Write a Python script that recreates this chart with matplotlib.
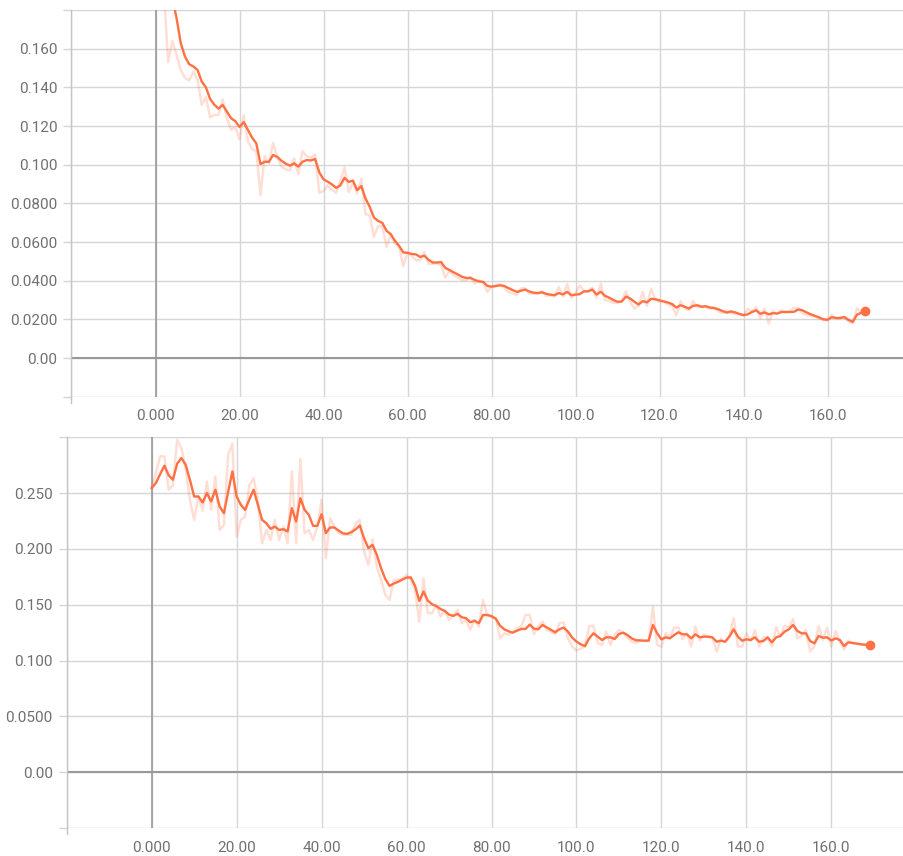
import numpy as np
import matplotlib
matplotlib.use("Agg")
import matplotlib.pyplot as plt

plt.rcParams['font.family'] = ['Roboto', 'DejaVu Sans']

# ---- data ----
steps = list(range(170))

top_smoothed = [
    0.262, 0.238, 0.216, 0.199, 0.186, 0.176, 0.163, 0.156, 0.152, 0.1508,
    0.149, 0.143, 0.140, 0.134, 0.131, 0.129, 0.1309, 0.1274, 0.124, 0.1225,
    0.1195, 0.122, 0.118, 0.114, 0.111, 0.1003, 0.1015, 0.1015, 0.105, 0.104,
    0.102, 0.1005, 0.0995, 0.1007, 0.099, 0.1015, 0.1024, 0.1022, 0.1029, 0.096,
    0.0924, 0.0912, 0.0898, 0.088, 0.0893, 0.0932, 0.0911, 0.0918, 0.0868, 0.0889,
    0.0825, 0.0782, 0.0727, 0.0709, 0.0699, 0.0658, 0.0641, 0.0606, 0.058, 0.0546,
    0.0544, 0.0538, 0.0536, 0.0523, 0.0529, 0.0508, 0.0494, 0.0494, 0.0496, 0.0466,
    0.0455, 0.0443, 0.0432, 0.042, 0.0414, 0.0414, 0.0404, 0.0396, 0.0394, 0.0373,
    0.0369, 0.0372, 0.0376, 0.0373, 0.0362, 0.0352, 0.0342, 0.0348, 0.0354, 0.0344,
    0.0338, 0.0336, 0.034, 0.0332, 0.0328, 0.0325, 0.0336, 0.0329, 0.0342, 0.0325,
    0.0328, 0.033, 0.0345, 0.0345, 0.0354, 0.0328, 0.0343, 0.0322, 0.0312, 0.0300,
    0.0291, 0.0292, 0.0318, 0.0308, 0.0291, 0.0277, 0.0294, 0.0288, 0.0306, 0.0304,
    0.0298, 0.0293, 0.0287, 0.0279, 0.0261, 0.0273, 0.0265, 0.0256, 0.0270, 0.0273,
    0.0265, 0.0268, 0.0261, 0.0259, 0.0252, 0.0243, 0.0235, 0.0241, 0.0236, 0.0228,
    0.0222, 0.0226, 0.0238, 0.0247, 0.0229, 0.0236, 0.0226, 0.0232, 0.0230, 0.0238,
    0.0238, 0.0238, 0.0239, 0.0251, 0.0247, 0.0236, 0.0226, 0.0218, 0.0210, 0.0200,
    0.0198, 0.0211, 0.0207, 0.0207, 0.0212, 0.0197, 0.0187, 0.0224, 0.0234, 0.0243,
]

top_raw = [
    0.262, 0.22, 0.19, 0.153, 0.164, 0.157, 0.149, 0.145, 0.1435, 0.148,
    0.144, 0.131, 0.135, 0.1245, 0.1257, 0.1257, 0.1338, 0.124, 0.118, 0.1196,
    0.113, 0.1257, 0.112, 0.108, 0.107, 0.0843, 0.1045, 0.1007, 0.1113, 0.104,
    0.099, 0.0975, 0.097, 0.1033, 0.0951, 0.107, 0.1045, 0.1036, 0.1053, 0.0855,
    0.0863, 0.0894, 0.087, 0.0855, 0.0917, 0.0985, 0.0858, 0.0905, 0.0851, 0.0927,
    0.0744, 0.0739, 0.0627, 0.0682, 0.0682, 0.0575, 0.0635, 0.0593, 0.0575, 0.0475,
    0.055, 0.0527, 0.0506, 0.0506, 0.0549, 0.0487, 0.0487, 0.049, 0.0478, 0.0416,
    0.045, 0.0428, 0.0416, 0.0402, 0.0402, 0.042, 0.0385, 0.0402, 0.039, 0.0342,
    0.0368, 0.0378, 0.0382, 0.0365, 0.0342, 0.0335, 0.0325, 0.036, 0.0362, 0.0332,
    0.0333, 0.0333, 0.0345, 0.0322, 0.0325, 0.0318, 0.0368, 0.0318, 0.0382, 0.031,
    0.0335, 0.0376, 0.0348, 0.0345, 0.0365, 0.031, 0.0385, 0.03, 0.0296, 0.0285,
    0.0285, 0.0298, 0.0345, 0.0292, 0.0255, 0.0272, 0.0342, 0.027, 0.0359, 0.03,
    0.029, 0.029, 0.0278, 0.0268, 0.0221, 0.0295, 0.0255, 0.0248, 0.0295, 0.0262,
    0.0268, 0.0262, 0.0255, 0.0258, 0.0242, 0.0232, 0.0245, 0.0232, 0.0228, 0.0226,
    0.022, 0.0255, 0.024, 0.0262, 0.0205, 0.0255, 0.0178, 0.0245, 0.0228, 0.0248,
    0.0235, 0.0242, 0.026, 0.0258, 0.0232, 0.0222, 0.0218, 0.0215, 0.0205, 0.0198,
    0.0195, 0.0222, 0.0205, 0.0208, 0.021, 0.0188, 0.018, 0.0257, 0.0238, 0.0248,
]

bottom_smoothed = [
    0.2545, 0.259, 0.267, 0.2745, 0.266, 0.262, 0.2763, 0.2814, 0.2754, 0.262,
    0.247, 0.247, 0.2416, 0.25, 0.2425, 0.253, 0.238, 0.232, 0.251, 0.2694,
    0.247, 0.2395, 0.235, 0.2443, 0.253, 0.2395, 0.226, 0.223, 0.218, 0.22,
    0.217, 0.2177, 0.2156, 0.2365, 0.2246, 0.2455, 0.235, 0.2305, 0.2207, 0.2207,
    0.2312, 0.2141, 0.2192, 0.2192, 0.2165, 0.214, 0.2135, 0.2150, 0.2175, 0.221,
    0.2097, 0.2007, 0.2036, 0.1947, 0.1827, 0.1731, 0.1669, 0.169, 0.1705, 0.1725,
    0.1743, 0.1745, 0.1669, 0.1534, 0.1618, 0.1537, 0.1505, 0.1488, 0.1462, 0.1444,
    0.1412, 0.14, 0.1418, 0.1388, 0.138, 0.1343, 0.1357, 0.1334, 0.1408, 0.1408,
    0.1398, 0.1375, 0.1313, 0.128, 0.1262, 0.125, 0.1268, 0.1283, 0.1283, 0.1322,
    0.1285, 0.1281, 0.1319, 0.1297, 0.1275, 0.1253, 0.1281, 0.1295, 0.1259, 0.1205,
    0.117, 0.1145, 0.113, 0.1199, 0.1244, 0.1214, 0.1184, 0.1208, 0.1208, 0.1193,
    0.1238, 0.125, 0.1229, 0.1199, 0.1182, 0.118, 0.1178, 0.1178, 0.1319, 0.1244,
    0.119, 0.1208, 0.1199, 0.1229, 0.1253, 0.1235, 0.1235, 0.1199, 0.1235, 0.1208,
    0.1214, 0.1214, 0.1208, 0.1169, 0.1178, 0.1169, 0.1215, 0.128, 0.1214, 0.1178,
    0.119, 0.1184, 0.1208, 0.1169, 0.1175, 0.1208, 0.1163, 0.1208, 0.122, 0.1259,
    0.128, 0.1319, 0.1265, 0.1244, 0.1244, 0.1175, 0.1154, 0.122, 0.1205, 0.1208,
    0.118, 0.1199, 0.1184, 0.113, 0.1163, 0.1158, 0.1152, 0.1145, 0.1142, 0.114,
]

bottom_raw = [
    0.2545, 0.268, 0.283, 0.283, 0.253, 0.257, 0.2978, 0.2904, 0.272, 0.244,
    0.226, 0.247, 0.2342, 0.2604, 0.235, 0.265, 0.217, 0.2215, 0.2844, 0.2943,
    0.211, 0.226, 0.229, 0.257, 0.2635, 0.244, 0.205, 0.217, 0.208, 0.226,
    0.208, 0.220, 0.205, 0.2694, 0.205, 0.2805, 0.214, 0.217, 0.208, 0.220,
    0.244, 0.1917, 0.2275, 0.220, 0.214, 0.2126, 0.2126, 0.2126, 0.223, 0.226,
    0.1977, 0.1857, 0.2085, 0.1842, 0.1722, 0.1588, 0.1543, 0.1722, 0.1725, 0.1735,
    0.1767, 0.1728, 0.1632, 0.1348, 0.1737, 0.1424, 0.1424, 0.15, 0.1394, 0.1453,
    0.1364, 0.1408, 0.1453, 0.1334, 0.1364, 0.1274, 0.1364, 0.1304, 0.1543, 0.1408,
    0.1385, 0.1379, 0.12, 0.1244, 0.123, 0.126, 0.129, 0.1304, 0.1408, 0.141,
    0.1235, 0.131, 0.135, 0.1275, 0.126, 0.1235, 0.1335, 0.134, 0.12, 0.1125,
    0.109, 0.1105, 0.1125, 0.131, 0.131, 0.1156, 0.114, 0.126, 0.114, 0.1235,
    0.1275, 0.1245, 0.1205, 0.117, 0.116, 0.1185, 0.1175, 0.118, 0.1483, 0.114,
    0.1125, 0.1245, 0.121, 0.1295, 0.1295, 0.119, 0.1245, 0.1125, 0.1305, 0.118,
    0.1235, 0.121, 0.1205, 0.108, 0.1195, 0.1165, 0.122, 0.138, 0.1125, 0.1125,
    0.1245, 0.1175, 0.127, 0.1125, 0.121, 0.12, 0.1125, 0.130, 0.1215, 0.131,
    0.130, 0.1373, 0.12, 0.122, 0.1275, 0.108, 0.1125, 0.131, 0.1185, 0.1295,
    0.1125, 0.1265, 0.117, 0.110, 0.118, 0.1155, 0.115, 0.1145, 0.114, 0.114,
]

x_ticks = [0, 20, 40, 60, 80, 100, 120, 140, 160]
x_labels = ["0.000", "20.00", "40.00", "60.00", "80.00", "100.0", "120.0", "140.0", "160.0"]

top_yticks = [0.0, 0.02, 0.04, 0.06, 0.08, 0.10, 0.12, 0.14, 0.16]
top_ylabels = ["0.00", "0.0200", "0.0400", "0.0600", "0.0800", "0.100", "0.120", "0.140", "0.160"]
bottom_yticks = [0.0, 0.05, 0.10, 0.15, 0.20, 0.25]
bottom_ylabels = ["0.00", "0.0500", "0.100", "0.150", "0.200", "0.250"]

line_color = "#ff7043"
grid_color = "#d6d6d6"
zero_color = "#999999"
text_color = "#707070"

W, H = 904, 856
fig = plt.figure(figsize=(W / 100, H / 100), dpi=100)


def make_panel(rect_px, xlim, ylim, yticks, ylabels, smoothed, raw):
    left, top, right, bottom = rect_px
    ax = fig.add_axes([left / W, 1 - bottom / H, (right - left) / W, (bottom - top) / H])
    ax.set_xlim(*xlim)
    ax.set_ylim(*ylim)

    # gridlines incl. the domain ends
    ax.set_xticks([xlim[0]] + x_ticks)
    ax.set_xticklabels([""] + x_labels)
    ax.set_yticks([ylim[0]] + yticks + [ylim[1]])
    ax.set_yticklabels([""] + ylabels + [""])
    ax.grid(True, color=grid_color, linewidth=1.0)
    ax.set_axisbelow(True)

    ax.axhline(0, color=zero_color, linewidth=1.5, zorder=1)
    ax.axvline(0, color=zero_color, linewidth=1.2, zorder=1)

    for s in ["top", "right", "bottom"]:
        ax.spines[s].set_visible(False)
    ax.spines["left"].set_color("#c4c4c4")
    ax.spines["left"].set_linewidth(1.0)

    ax.tick_params(axis="y", length=6, color=grid_color, width=1.0, pad=4,
                   labelsize=11, labelcolor=text_color)
    ax.tick_params(axis="x", length=0, pad=9, labelsize=11, labelcolor=text_color)

    # small outer tick of the x domain at its left end
    h_px = bottom - top
    ax.plot([0, 0], [0, -6 / h_px], transform=ax.transAxes, color="#c4c4c4",
            linewidth=1.0, clip_on=False)

    ax.plot(steps, raw, color=line_color, alpha=0.22, linewidth=1.8, zorder=3)
    ax.plot(steps, smoothed, color=line_color, linewidth=1.7, zorder=4)
    ax.plot(steps[-1], smoothed[-1], "o", color=line_color, markersize=6, zorder=5)
    return ax


make_panel((71.5, 10, 904, 396.7), (-20, 178.2), (-0.02, 0.18),
           top_yticks, top_ylabels, top_smoothed, top_raw)
make_panel((66.7, 437.3, 904, 828), (-20, 177.1), (-0.05, 0.30),
           bottom_yticks, bottom_ylabels, bottom_smoothed, bottom_raw)

fig.savefig("out.png", dpi=100)
